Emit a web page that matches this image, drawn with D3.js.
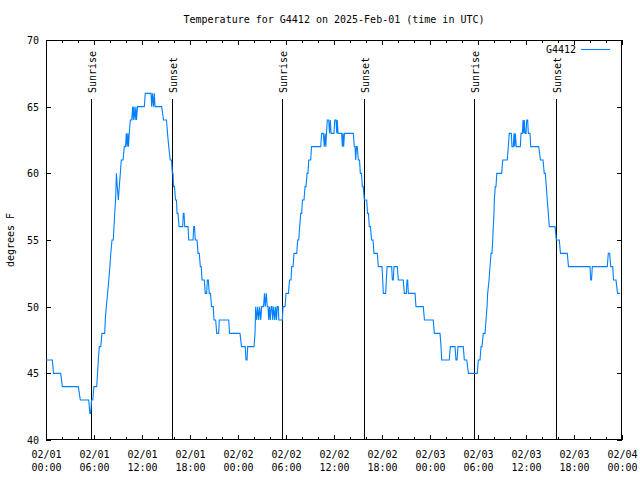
<!DOCTYPE html>
<html>
<head>
<meta charset="utf-8">
<script src="https://cdn.jsdelivr.net/npm/d3@7"></script>
<style>
  html, body { margin: 0; padding: 0; background: #fff; }
  svg { display: block; }
  text { font-family: "DejaVu Sans Mono", "Liberation Mono", monospace; font-size: 10px; fill: #000; }
</style>
</head>
<body>
<svg id="chart" width="640" height="480"></svg>
<script>
// ---- data (hours since 2025-02-01 00:00 UTC, temperature in °F) ----
const title = "Temperature for G4412 on 2025-Feb-01 (time in UTC)";
const seriesName = "G4412";
const yLabel = "degrees F";
const hours = [
  0.00,0.79,0.94,1.84,2.04,4.04,4.29,5.34,5.48,5.59,5.69,5.85,5.98,6.34,6.44,6.54,6.66,6.85,7.00,7.34,
  7.41,7.54,7.70,7.85,7.98,8.10,8.25,8.41,8.50,8.59,8.70,8.75,8.80,8.91,9.04,9.16,9.29,9.41,9.63,9.79,
  9.94,10.04,10.13,10.23,10.31,10.41,10.54,10.71,10.84,10.91,11.00,11.13,11.23,11.31,11.44,12.29,12.41,13.13,13.21,13.31,
  13.44,13.54,13.63,14.46,14.69,15.06,15.19,15.34,15.53,15.69,15.79,15.88,15.94,16.06,16.19,16.31,16.38,16.50,16.63,17.09,
  17.16,17.25,17.34,17.75,17.84,18.38,18.46,18.56,18.66,18.88,19.00,19.16,19.29,19.41,19.50,19.79,19.91,20.09,20.16,20.29,
  20.41,20.56,20.69,20.91,21.00,21.21,21.34,21.59,21.66,22.84,22.94,24.25,24.44,24.91,25.00,25.13,25.21,26.00,26.13,26.21,
  26.34,26.46,26.59,26.71,26.84,26.96,27.19,27.31,27.41,27.54,27.66,27.75,27.84,27.94,28.04,28.15,28.25,28.34,28.46,28.59,
  28.71,28.81,28.91,29.04,29.10,29.54,29.63,29.88,30.00,30.31,30.44,30.63,30.71,30.88,31.00,31.34,31.46,31.59,31.71,31.84,
  31.96,32.06,32.25,32.38,32.50,32.63,32.75,32.84,33.09,33.19,34.34,34.46,34.66,34.79,34.88,34.98,35.06,35.16,35.34,35.44,
  35.54,35.63,36.00,36.09,36.25,36.34,36.41,36.50,36.96,37.04,37.13,37.21,37.31,38.41,38.54,38.63,38.71,38.81,38.91,39.04,
  39.19,39.29,39.44,39.54,39.66,39.79,40.09,40.19,40.31,40.41,40.56,40.69,40.88,41.00,41.41,41.54,42.00,42.09,42.16,42.46,
  42.54,42.63,43.21,43.29,43.41,43.50,43.91,44.04,44.66,44.79,45.04,45.13,45.21,45.29,46.13,46.25,47.16,47.31,48.41,48.54,
  49.25,49.38,49.46,50.41,50.54,51.13,51.25,51.38,51.50,52.16,52.29,52.59,52.81,53.91,54.04,54.25,54.38,54.50,54.66,54.88,
  55.00,55.13,55.21,55.38,55.50,55.63,55.75,55.84,55.91,56.00,56.04,56.16,56.25,56.35,56.96,57.09,57.66,57.79,57.91,58.16,
  58.25,58.41,58.50,58.59,58.66,58.79,59.29,59.38,59.54,59.63,59.71,59.79,59.88,60.00,60.09,60.21,60.29,60.50,60.59,61.59,
  61.81,62.13,62.28,62.41,62.54,62.66,62.79,62.91,63.63,63.79,64.16,64.31,65.16,65.31,68.00,68.09,68.19,68.29,70.16,70.29,
  70.46,70.59,70.84,70.94,71.25,71.44,71.75
];
const temps = [
  46,46,45,45,44,44,43,43,42,42,43,43,44,44,45,46,47,47,48,48,
  49,50,51,52,53,54,55,55,56,57,58,59,60,59,58,59,60,61,61,62,
  62,63,62,63,62,63,64,64,65,64,65,64,65,64,65,65,66,66,65,66,
  65,66,65,65,64,64,63,62,61,61,60,60,59,59,58,58,57,57,56,56,
  57,57,56,56,55,55,56,56,55,55,54,54,53,53,52,52,51,51,52,52,
  51,51,50,50,49,49,48,48,49,49,48,48,47,47,46,46,47,47,48,50,
  49,50,49,50,49,50,50,51,50,51,50,50,49,50,49,50,50,49,50,49,
  50,49,50,50,49,49,50,50,51,51,52,52,53,53,54,54,55,55,56,57,
  57,58,58,59,59,60,60,61,61,62,62,63,63,62,63,62,63,64,64,63,
  64,63,63,64,64,63,64,63,63,62,63,62,63,63,62,62,61,62,62,61,
  61,60,60,59,59,58,58,57,57,56,56,55,55,54,54,53,53,52,51,51,
  52,53,53,52,52,53,53,52,52,51,51,52,52,51,51,50,50,49,49,48,
  48,47,46,46,47,47,46,46,47,47,46,46,45,45,46,46,47,47,48,48,
  49,50,51,52,53,54,54,55,56,57,58,59,59,60,60,61,61,62,63,63,
  62,62,63,62,63,62,62,63,63,64,63,64,63,63,64,64,63,63,62,62,
  61,61,60,60,59,58,57,56,56,55,55,54,54,53,53,52,52,53,53,54,
  54,53,53,52,52,51,51
];
const sunHours = [5.66, 15.79, 29.54, 39.79, 53.54, 63.79];
const sunLabels = ["Sunrise", "Sunset", "Sunrise", "Sunset", "Sunrise", "Sunset"];
const yTickValues = [40, 45, 50, 55, 60, 65, 70];
const yDomain = [40, 70];
const startDate = new Date(Date.UTC(2025, 1, 1, 0, 0));
const endDate = new Date(Date.UTC(2025, 1, 4, 0, 0));
const majorTickHours = 6;
const minorTickHours = 2;

// ---- layout ----
const L = 46, R = 622, T = 40, B = 440;
const svg = d3.select("#chart");
const toDate = h => new Date(startDate.getTime() + h * 3600 * 1000);
const data = hours.map((h, i) => ({ t: toDate(h), v: temps[i] }));

const x = d3.scaleUtc().domain([startDate, endDate]).range([L, R]);
const y = d3.scaleLinear().domain(yDomain).range([B, T]);

const minorTicks = d3.utcHour.every(minorTickHours).range(startDate, d3.utcMillisecond.offset(endDate, 1));
const majorTicks = d3.utcHour.every(majorTickHours).range(startDate, d3.utcMillisecond.offset(endDate, 1));

function styleAxis(g) {
  g.select(".domain").remove();
  g.selectAll(".tick line").attr("stroke", "#000").attr("shape-rendering", "crispEdges");
}

svg.append("g").attr("transform", `translate(0,${B})`)
  .call(d3.axisBottom(x).tickValues(minorTicks).tickSize(-3).tickFormat(""))
  .call(styleAxis);
svg.append("g").attr("transform", `translate(0,${T})`)
  .call(d3.axisTop(x).tickValues(minorTicks).tickSize(-3).tickFormat(""))
  .call(styleAxis);
svg.append("g").attr("transform", `translate(0,${T})`)
  .call(d3.axisTop(x).tickValues(majorTicks).tickSize(-5).tickFormat(""))
  .call(styleAxis);

const fmtDay = d3.utcFormat("%m/%d");
const fmtTime = d3.utcFormat("%H:%M");
const xAxis = svg.append("g").attr("transform", `translate(0,${B})`)
  .call(d3.axisBottom(x).tickValues(majorTicks).tickSize(-5).tickFormat(""))
  .call(styleAxis);
xAxis.selectAll(".tick").each(function(d) {
  const t = d3.select(this).append("text")
    .attr("text-anchor", "middle").attr("fill", "#000").attr("stroke", "none");
  t.append("tspan").attr("x", 0).attr("y", 18).text(fmtDay(d));
  t.append("tspan").attr("x", 0).attr("y", 31).text(fmtTime(d));
});

const yAxis = svg.append("g").attr("transform", `translate(${L},0)`)
  .call(d3.axisLeft(y).tickValues(yTickValues).tickSize(-5).tickPadding(12).tickFormat(d3.format("d")))
  .call(styleAxis);
yAxis.selectAll(".tick text").attr("font-family", null).attr("font-size", null)
  .attr("dy", "0.35em").attr("x", -7);
svg.append("g").attr("transform", `translate(${R},0)`)
  .call(d3.axisRight(y).tickValues(yTickValues).tickSize(-5).tickFormat(""))
  .call(styleAxis);

// frame
svg.append("rect").attr("x", L + 0.5).attr("y", T + 0.5)
  .attr("width", R - L - 1).attr("height", B - T - 1)
  .attr("fill", "none").attr("stroke", "#000").attr("stroke-width", 1)
  .attr("shape-rendering", "crispEdges");

// sunrise / sunset lines
const sun = svg.append("g");
sunHours.forEach((h, i) => {
  const sx = Math.round(x(toDate(h))) + 0.5;
  sun.append("line").attr("x1", sx).attr("x2", sx).attr("y1", 99).attr("y2", B)
    .attr("stroke", "#000").attr("stroke-width", 1).attr("shape-rendering", "crispEdges");
  sun.append("text").attr("transform", `translate(${sx + 4.5},93) rotate(-90)`)
    .attr("text-anchor", "start").text(sunLabels[i]);
});

// data line
const line = d3.line().x(d => x(d.t)).y(d => y(d.v));
svg.append("path").datum(data).attr("d", line)
  .attr("fill", "none").attr("stroke", "#0080ff").attr("stroke-width", 1.1)
  .attr("stroke-linejoin", "miter");

// legend
svg.append("text").attr("x", 576).attr("y", 53).attr("text-anchor", "end").text(seriesName);
svg.append("line").attr("x1", 581).attr("x2", 610).attr("y1", 49.5).attr("y2", 49.5)
  .attr("stroke", "#0080ff").attr("stroke-width", 1.1);

// title and y label
svg.append("text").attr("x", (L + R) / 2).attr("y", 23).attr("text-anchor", "middle").text(title);
svg.append("text").attr("transform", `translate(14,${(T + B) / 2}) rotate(-90)`)
  .attr("text-anchor", "middle").text(yLabel);
</script>
</body>
</html>
